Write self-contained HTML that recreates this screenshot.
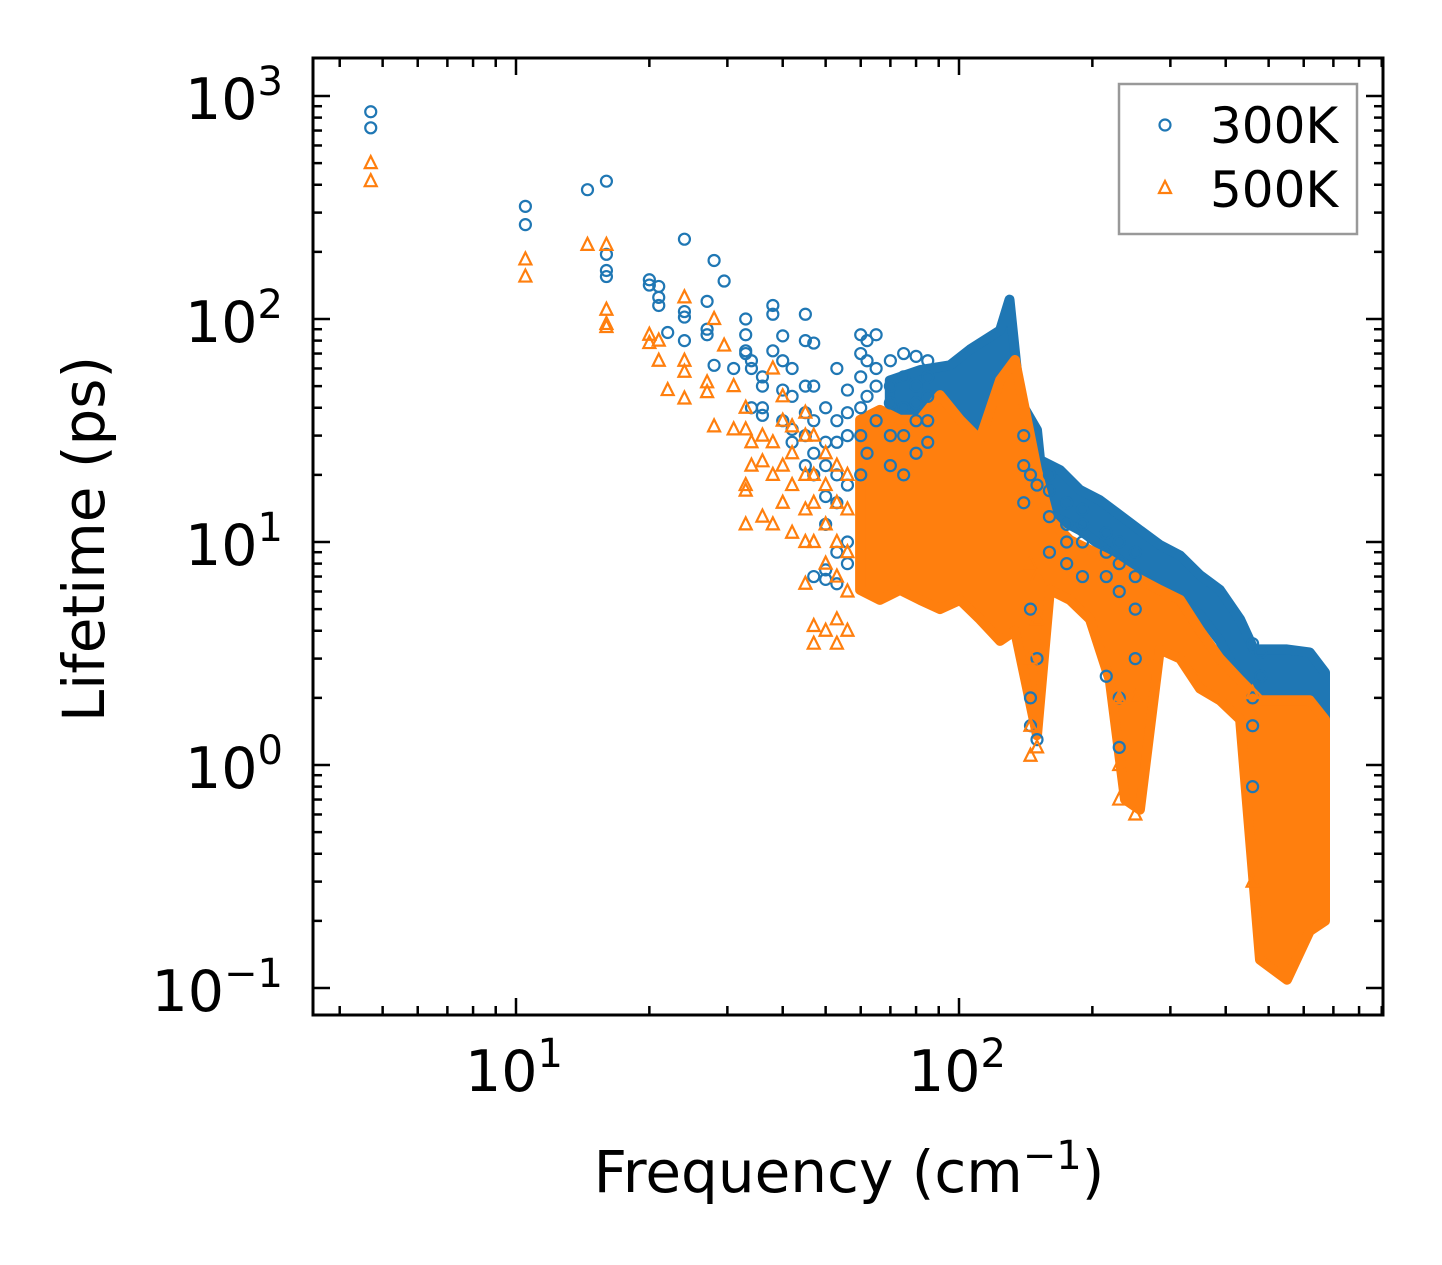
<!DOCTYPE html>
<html><head><meta charset="utf-8">
<style>
html,body{margin:0;padding:0;background:#fff;}
svg{display:block;font-family:"DejaVu Sans","Liberation Sans",sans-serif;}
</style></head>
<body>
<svg id="chart" width="1442" height="1265" viewBox="0 0 1442 1265" xmlns="http://www.w3.org/2000/svg">
<rect width="1442" height="1265" fill="#fff"/>
<g id="bands"></g>
<g id="points"></g>
<g id="axes"></g>
<g id="legend">
  <rect x="1119" y="84" width="238" height="150" fill="#fff" fill-opacity="0.8" stroke="#999" stroke-width="2.5"/>
  <circle cx="1165" cy="125" r="5.5" fill="none" stroke="#1f77b4" stroke-width="2.2"/>
  <text x="1210" y="143" font-size="50">300K</text>
  <path d="M1165,181 L1171,193 L1159,193 Z" fill="none" stroke="#ff7f0e" stroke-width="2.2"/>
  <text x="1210" y="207" font-size="50">500K</text>
</g>
<text x="849" y="1192" font-size="58" text-anchor="middle">Frequency (cm<tspan dy="-23" font-size="40">−1</tspan><tspan dy="23">)</tspan></text>
<text transform="translate(104,539) rotate(-90)" font-size="58" text-anchor="middle">Lifetime (ps)</text>
</svg>
<script>
// ---- data ----
const freq300 = [4.7,10.5,14.5,16,20,21,22,24,27,28,29.5,31,33,34,36,38,40,42,45,47,50,53,56,60,62,65,70,75,80,85,140,145,150,160,175,190,215,230,250,460,480];
const life300 = [[850,720],[320,265],[380],[415,195,165,155],[150,142],[140,125,115],[87],[228,108,102,80],[90,85,120],[183,62],[148],[60],[100,85,72,70],[60,65,40],[55,50,40,37],[115,105,72],[84,65,48,35],[60,45,32,28],[105,80,50,38,30,22],[78,50,35,25,20,7],[40,28,22,16,12,7.5,6.8],[60,35,28,20,15,9,6.5],[48,38,30,18,10,8],[85,70,55,40,30,20],[80,65,45,25],[85,60,50,35],[65,50,42,30,22],[70,55,40,30,20],[68,50,42,35,25],[65,55,45,35,28],[30,22,15],[20,5,2,1.5],[18,3,1.3],[20,17,13,9],[15,12,10,8],[14,12,10,7],[11,9,7,2.5],[10,8,6,2,1.2],[9,7,5,3],[3.5,2,1.5,0.8],[3.2,2.5]];
const freq500 = [4.7,10.5,14.5,16,20,21,22,24,27,28,29.5,31,33,34,36,38,40,42,45,47,50,53,56,145,150,230,250,460];
const life500 = [[500,415],[185,155],[215],[215,110,95,92],[85,78],[80,65],[48],[125,65,58,44],[52,47],[100,33],[76],[50,32],[40,32,18,17,12],[22,28],[30,23,13],[60,28,12,20],[45,35,22,15],[33,25,18,11],[38,30,20,14,10,6.5],[30,20,15,10,4.2,3.5],[25,18,12,8,4],[22,15,10,7,4.5,3.5],[20,14,9,6,4],[8,3,1.5,1.1],[7,4.5,1.2],[2,1,0.7],[2,0.6],[2.1,0.3]];
// dense regions: [freq, low, high]
const bandFreq300 = [69.8,81.7,95.4,105.9,123.8,130,137.3,150,152.4,169,187.6,208,230.7,256,284,315.5,350,388,431,463,550,619,670];
const bandLo300 = [12.6,13.9,17.1,21,21,43,21,2.2,13.9,12.6,11.3,9.7,8.3,7.1,6.1,5.5,4.7,3.6,2.4,0.3,0.3,0.3,0.3];
const bandHi300 = [53,59,62,73,89,122,43,31.8,23.3,21,17.1,15.4,13.2,11.3,9.7,8.7,7.1,6.1,4.5,3.3,3.3,3.2,2.6];
const bandFreq500 = [59.8,66.3,73.6,81.7,90.6,100.5,111.5,123.8,133.8,150,160.4,178,197.6,219,237,256,284,315.5,350,388,431,478,550,619,670];
const bandLo500 = [6.1,5.5,6.1,5.5,5.0,5.5,4.5,3.6,4.0,1.36,6.1,5.5,4.5,2.4,0.70,0.63,3.3,3.0,2.2,1.95,1.6,0.134,0.109,0.18,0.20];
const bandHi500 = [35.3,39.1,35.3,35.3,45.6,35.3,28.7,53.2,65.5,21,12.6,10.2,9.2,8.3,7.5,6.8,6.1,5.5,4.0,3.0,2.4,1.95,1.95,1.95,1.6];
const xTicks = [10,100];
const xTickExp = ["1","2"];
const yTicks = [0.1,1,10,100,1000];
const yTickExp = ["−1","0","1","2","3"];

// ---- scales ----
const X0=313,X1=1383,Y0=58,Y1=1015;
function sx(f){return 516+(Math.log10(f)-1)*443;}
function sy(v){return 542-(Math.log10(v)-1)*223;}
const NS="http://www.w3.org/2000/svg";
function mk(tag,attrs,parent){const e=document.createElementNS(NS,tag);for(const k in attrs)e.setAttribute(k,attrs[k]);parent.appendChild(e);return e;}
const C300="#1f77b4",C500="#ff7f0e";
const bandsG=document.getElementById('bands'),ptsG=document.getElementById('points'),axG=document.getElementById('axes');

function band(fr,lo,hi,color,name){
  let d="";
  for(let i=0;i<fr.length;i++) d+=(i?"L":"M")+sx(fr[i]).toFixed(1)+","+sy(hi[i]).toFixed(1);
  for(let i=fr.length-1;i>=0;i--) d+="L"+sx(fr[i]).toFixed(1)+","+sy(lo[i]).toFixed(1);
  d+="Z";
  const p=mk('path',{d:d,fill:color,stroke:color,'stroke-width':10,'stroke-linejoin':'round'},bandsG);
  
  
}
function circle(f,v){
  const c=mk('circle',{cx:sx(f),cy:sy(v),r:5.5,fill:'none',stroke:C300,'stroke-width':2.2},ptsG);
  
  
}
function tri(f,v){
  const x=sx(f),y=sy(v);
  const p=mk('path',{d:`M${x},${y-7}L${x+6},${y+5}L${x-6},${y+5}Z`,fill:'none',stroke:C500,'stroke-width':2.2},ptsG);
  
  
}
band(bandFreq300,bandLo300,bandHi300,C300,'band-300k');
freq300.forEach((f,i)=>life300[i].forEach(v=>circle(f,v)));
band(bandFreq500,bandLo500,bandHi500,C500,'band-500k');
freq500.forEach((f,i)=>life500[i].forEach(v=>tri(f,v)));

// ---- axes ----
const frame=mk('rect',{x:X0,y:Y0,width:X1-X0,height:Y1-Y0,fill:'none',stroke:'#000','stroke-width':3},axG);


function tick(x1,y1,x2,y2){mk('line',{x1:x1,y1:y1,x2:x2,y2:y2,stroke:'#000','stroke-width':2.5},axG);}
for(let dec=1;dec<=100;dec*=10){
  for(let m=1;m<=9;m++){
    const f=dec*m; if(f<3.5||f>900) continue;
    const x=sx(f), L=(m===1)?17:9;
    tick(x,Y1,x,Y1-L); tick(x,Y0,x,Y0+L);
  }
}
for(let dec=0.1;dec<=1000;dec*=10){
  for(let m=1;m<=9;m++){
    const v=dec*m, y=sy(v); if(y<Y0||y>Y1) continue;
    const L=(m===1)?17:9;
    tick(X0,y,X0+L,y); tick(X1,y,X1-L,y);
  }
}
xTicks.forEach((t,i)=>{
  const tx=mk('text',{x:sx(t)-2,y:1091,'font-size':57,'text-anchor':'middle'},axG);
  
  
  tx.innerHTML='10<tspan dy="-24" font-size="40">'+xTickExp[i]+'</tspan>';
});
yTicks.forEach((t,i)=>{
  const tx=mk('text',{x:283,y:sy(t)+23,'font-size':57,'text-anchor':'end'},axG);
  
  
  tx.innerHTML='10<tspan dy="-24" font-size="40">'+yTickExp[i]+'</tspan>';
});
</script>
</body></html>
